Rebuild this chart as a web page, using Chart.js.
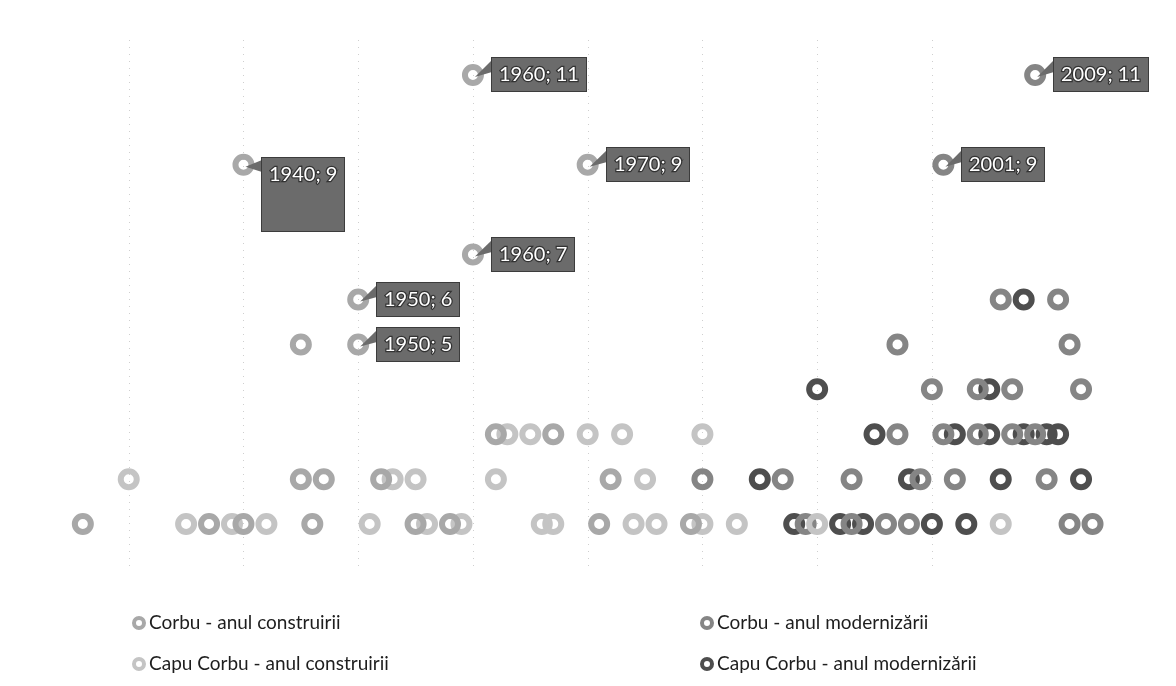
<!DOCTYPE html>
<html><head><meta charset="utf-8">
<script src="https://cdn.jsdelivr.net/npm/chart.js@4.4.1/dist/chart.umd.min.js"></script>
<style>
html,body{margin:0;padding:0;background:#fff;}
#wrap{position:relative;width:1176px;height:686px;overflow:hidden;}
#c{position:absolute;left:0;top:0;}
.leg{position:absolute;font-family:Lato,'Open Sans',sans-serif;font-size:19px;color:#1e1e1e;white-space:nowrap;line-height:22px;}
.leg i{display:inline-block;box-sizing:border-box;width:14px;height:14px;border-radius:50%;border:4px solid #999;vertical-align:-1px;margin-right:3px;}
</style></head>
<body>
<div id="wrap">
<canvas id="c" width="1176" height="686"></canvas>
<div class="leg" style="left:132px;top:611px;"><i style="border-color:#a8a8a8"></i>Corbu - anul construirii</div>
<div class="leg" style="left:132px;top:652px;"><i style="border-color:#c4c4c4"></i>Capu Corbu - anul construirii</div>
<div class="leg" style="left:700px;top:611px;"><i style="border-color:#858585"></i>Corbu - anul modernizării</div>
<div class="leg" style="left:700px;top:652px;"><i style="border-color:#4e4e4e"></i>Capu Corbu - anul modernizării</div>
</div>
<script>
// ---- data ----
const seriesNames = ["Corbu - anul construirii","Capu Corbu - anul construirii","Corbu - anul modernizării","Capu Corbu - anul modernizării"];

const corbuConstrYears  = [1926,1937,1940,1946,1955,1958,1971,1979, 1945,1947,1952,1972, 1962,1967, 1945,1950, 1950, 1960, 1940,1970, 1960];
const corbuConstrValues = [1,1,1,1,1,1,1,1, 2,2,2,2, 3,3, 5,5, 6, 7, 9,9, 11];

const capuConstrYears  = [1935,1939,1942,1951,1956,1959,1966,1967,1974,1976,1980,1983,1990,2006, 1930,1953,1955,1962,1975, 1963,1965,1970,1973,1980];
const capuConstrValues = [1,1,1,1,1,1,1,1,1,1,1,1,1,1, 2,2,2,2,2, 3,3,3,3,3];

const corbuModYears  = [1989,1993,1996,1998,2012,2014, 1980,1987,1993,1999,2002,2010, 1997,2001,2004,2007,2009, 2000,2004,2007,2013, 1997,2012, 2006,2011, 2001, 2009];
const corbuModValues = [1,1,1,1,1,1, 2,2,2,2,2,2, 3,3,3,3,3, 4,4,4,4, 5,5, 6,6, 9, 11];

const capuModYears  = [1988,1992,1994,2000,2003, 1985,1998,2006,2013, 1995,2002,2005,2008,2010,2011, 1990,2005, 2008];
const capuModValues = [1,1,1,1,1, 2,2,2,2, 3,3,3,3,3,3, 4,4, 6];

const labelYears  = [1960,1940,1970,1960,1950,1950,2001,2009];
const labelValues = [11,9,9,7,6,5,9,11];

const gridYears = [1930,1940,1950,1960,1970,1980,1990,2000];

// ---- style ----
const colors = ['#a8a8a8','#c4c4c4','#858585','#4e4e4e'];
const tallLabelIndex = 1;

function pts(xs, ys){ return xs.map((v,i)=>({x:v,y:ys[i]})); }
const seriesData = [
  pts(corbuConstrYears, corbuConstrValues),
  pts(capuConstrYears, capuConstrValues),
  pts(corbuModYears, corbuModValues),
  pts(capuModYears, capuModValues)
];

const gridPlugin = {
  id:'dotgrid',
  beforeDatasetsDraw(chart){
    const {ctx, scales:{x}, chartArea:a} = chart;
    ctx.save();
    ctx.strokeStyle = '#cfcfcf';
    ctx.lineWidth = 1;
    ctx.setLineDash([1,6]);
    gridYears.forEach(g=>{
      const px = Math.round(x.getPixelForValue(g))+0.5;
      ctx.beginPath(); ctx.moveTo(px, a.top+10); ctx.lineTo(px, a.bottom); ctx.stroke();
    });
    ctx.restore();
  }
};

const calloutPlugin = {
  id:'callouts',
  afterDatasetsDraw(chart){
    const {ctx, scales:{x,y}} = chart;
    ctx.save();
    ctx.font = '20px Lato, sans-serif';
    labelYears.forEach((yr,i)=>{
      const v = labelValues[i];
      const px = x.getPixelForValue(yr), py = y.getPixelForValue(v);
      const text = yr + '; ' + v;
      const w = Math.round(ctx.measureText(text).width + 16);
      const h = i===tallLabelIndex ? 75 : 35;
      const left = Math.round(px + 18);
      const top = Math.round(i===tallLabelIndex ? py - 8 : py - h/2);
      ctx.fillStyle = '#6b6b6b';
      ctx.beginPath();
      ctx.moveTo(left+1, top+3); ctx.lineTo(left+1, top+15); ctx.lineTo(px+2, py+2); ctx.closePath();
      ctx.fill();
      ctx.fillRect(left, top, w, h);
      ctx.strokeStyle = '#3c3c3c'; ctx.lineWidth = 1;
      ctx.strokeRect(left+0.5, top+0.5, w-1, h-1);
      ctx.textBaseline = 'middle';
      ctx.lineWidth = 2.5; ctx.strokeStyle = '#333';
      ctx.strokeText(text, left+8, top+18);
      ctx.fillStyle = '#ffffff';
      ctx.fillText(text, left+8, top+18);
    });
    ctx.restore();
  }
};

new Chart(document.getElementById('c'), {
  type:'scatter',
  data:{
    datasets: seriesData.map((d,i)=>({
      label: seriesNames[i],
      data: d,
      pointStyle:'circle',
      pointRadius:8,
      pointHoverRadius:8,
      borderWidth:6,
      borderColor: colors[i],
      backgroundColor:'rgba(255,255,255,0)',
      pointBackgroundColor:'rgba(255,255,255,0)',
      pointBorderColor: colors[i],
      clip:false
    }))
  },
  options:{
    responsive:false,
    animation:false,
    layout:{padding:{left:7,right:72,top:30,bottom:117}},
    plugins:{legend:{display:false},tooltip:{enabled:false}},
    scales:{
      x:{type:'linear',min:1920,max:2015,display:false},
      y:{type:'linear',min:0,max:12,display:false}
    }
  },
  plugins:[gridPlugin, calloutPlugin]
});
</script>
</body></html>
